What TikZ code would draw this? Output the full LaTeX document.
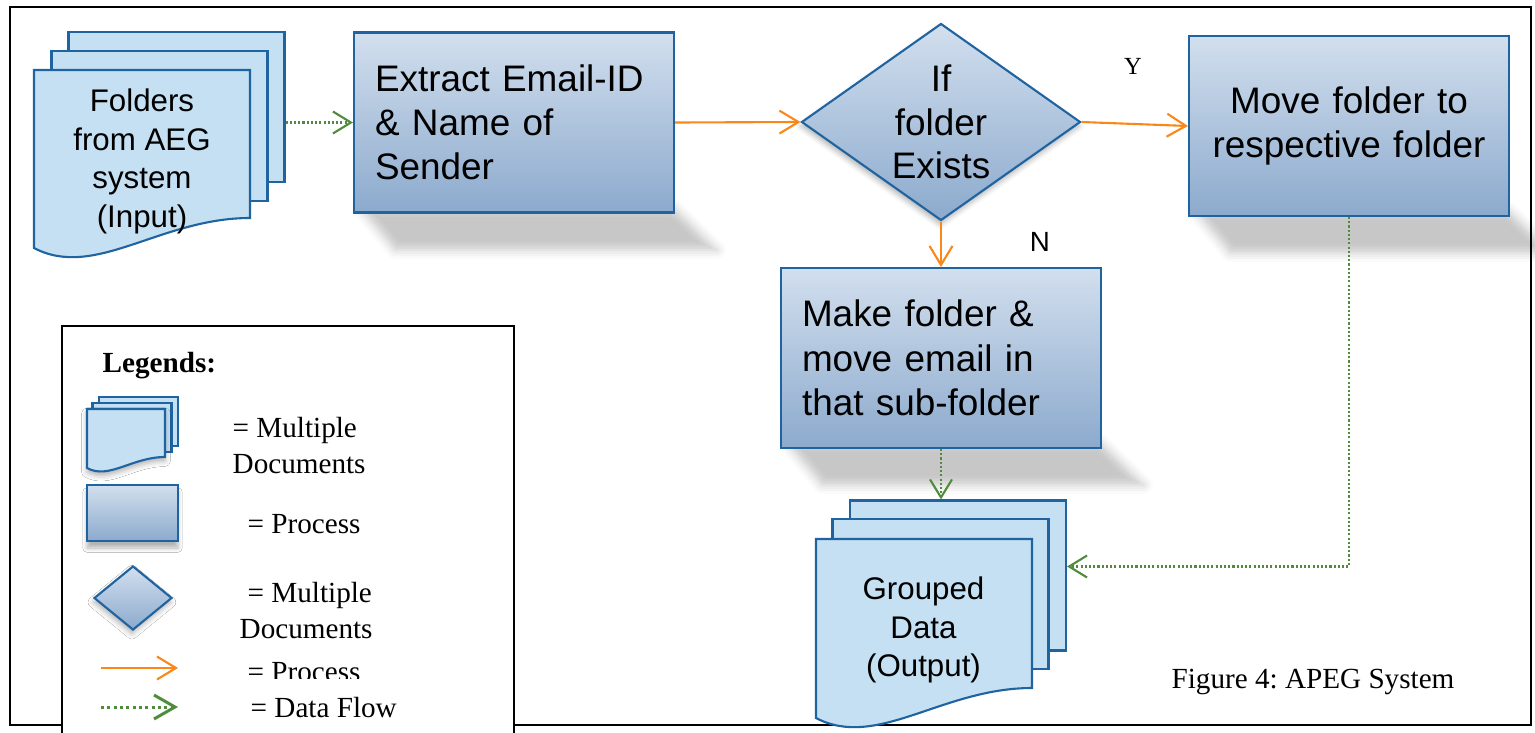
\documentclass[tikz,border=0pt]{standalone}
\usepackage{fontspec}
\setmainfont{Liberation Serif}
\setsansfont{Liberation Sans}
\usetikzlibrary{shapes.geometric,arrows.meta,shadows.blur}

\definecolor{boxline}{RGB}{31,100,160}
\definecolor{boxtop}{RGB}{210,223,238}
\definecolor{boxbot}{RGB}{140,170,205}
\definecolor{docfill}{RGB}{197,224,242}
\definecolor{flowor}{RGB}{250,135,25}
\definecolor{datagr}{RGB}{80,140,60}

\tikzset{
  process/.style={rectangle, draw=boxline, line width=0.6pt, top color=boxtop, bottom color=boxbot,
    minimum width=3.2cm, minimum height=1.8cm, inner xsep=0.21cm, inner ysep=0pt, text width=2.78cm,
    font=\sffamily\fontsize{10.5}{12.6}\selectfont},
  decision/.style={diamond, draw=boxline, line width=0.6pt, top color=boxtop, bottom color=boxbot,
    inner sep=0pt, aspect=1.42, align=center, font=\sffamily\fontsize{10.5}{12.3}\selectfont,
    blur shadow={shadow xshift=-0.3pt, shadow yshift=-1.2pt, shadow blur radius=1.5pt, shadow opacity=30}},
  sheet/.style={rectangle, draw=boxline, line width=0.6pt, fill=docfill, minimum width=2.16cm, minimum height=1.5cm},
  docsheet/.style={draw=boxline, line width=0.6pt, fill=docfill},
  doctext/.style={font=\sffamily\fontsize{8.9}{11}\selectfont, align=center, inner sep=0pt},
  flow/.style={draw=flowor, line width=0.6pt, -{Straight Barb[length=1.9mm,width=2.3mm]}},
  dataflow/.style={draw=datagr, line width=0.6pt, dash pattern=on 0.6pt off 0.6pt,
    -{Straight Barb[length=1.8mm,width=2.2mm]}},
  persp/.style={blur shadow={shadow xshift=0pt, shadow yshift=0pt, shadow blur radius=2.5pt, shadow opacity=22}},
  legend/.style={font=\fontsize{8.3}{10}\selectfont, align=left, anchor=west, inner sep=0pt},
}

\begin{document}
\frenchspacing
\begin{tikzpicture}
\useasboundingbox (0,0) rectangle (15.35,-7.33);
\clip (0,0) rectangle (15.35,-7.33);

% outer frame
\draw[line width=0.6pt] (0.10,-0.07) rectangle (15.31,-7.25);

% ground shadows under the process boxes
\foreach \x/\y in {3.54/-2.13, 7.81/-4.48, 11.89/-2.16}
  \path[persp] (\x+0.06,\y+0.05) -- ++(3.14,0) -- ++(0.43,-0.42) -- ++(-3.22,0) -- cycle;

% input folders
\node[sheet] (inC) at (1.765,-1.07) {};
\node[sheet] (inB) at (1.595,-1.26) {};
\filldraw[docsheet] (0.34,-0.70) -- ++(2.16,0) -- ++(0,-1.48) .. controls +(-0.9,0) and +(0.61,-0.32) .. ++(-2.16,-0.30) -- cycle;
\node[doctext] (in) at (1.42,-1.615) {Folders\\from AEG\\system\\(Input)};

% process steps
\node[process, align=left] (ex) at (5.14,-1.225) {Extract Email-ID\\\& Name of\\Sender};
\node[decision, minimum width=2.79cm, minimum height=1.97cm] (dec) at (9.41,-1.22) {If\\folder\\Exists};
\node[process, align=center] (mv) at (13.49,-1.26) {Move folder to\\respective folder};
\node[process, align=left] (mk) at (9.41,-3.58) {Make folder \&\\move email in\\that sub-folder};

% grouped output
\node[sheet] (outC) at (9.58,-5.755) {};
\node[sheet] (outB) at (9.405,-5.94) {};
\filldraw[docsheet] (8.16,-5.39) -- ++(2.16,0) -- ++(0,-1.49) .. controls +(-0.9,0) and +(0.61,-0.32) .. ++(-2.16,-0.30) -- cycle;
\node[doctext] (out) at (9.235,-6.30) {Grouped\\Data\\(Output)};

% arrows
\draw[dataflow] (inC.east |- ex.west) -- (ex.west);
\draw[flow] (ex.east) -- (dec.west);
\draw[flow] (dec.east) -- (mv.west);
\draw[flow] (dec.south) -- (mk.north);
\draw[dataflow] (mk.south) -- (mk.south |- outC.north);
\draw[dataflow] (mv.south) |- ([yshift=0.09cm]outC.east);

\node[font=\fontsize{7}{8}\selectfont] (yes) at (11.33,-0.66) {Y};
\node[font=\sffamily\fontsize{7.9}{9}\selectfont] (no) at (10.40,-2.42) {N};
\node[font=\fontsize{8.3}{10}\selectfont] (cap) at (13.13,-6.82) {Figure 4: APEG System};

% legend
\node[draw, fill=white, line width=0.6pt, minimum width=4.52cm, minimum height=4.3cm, anchor=north west] (lgbox) at (0.61,-3.25) {};
\node[legend, font=\bfseries\fontsize{8.3}{10}\selectfont] (lgtitle) at (1.02,-3.66) {Legends:};

\node[sheet, minimum width=0.79cm, minimum height=0.49cm] (lgC) at (1.385,-4.215) {};
\node[sheet, minimum width=0.79cm, minimum height=0.49cm] (lgB) at (1.32,-4.275) {};
\filldraw[docsheet, blur shadow={shadow xshift=0pt, shadow yshift=-1.2pt, shadow blur radius=1.5pt, shadow opacity=30}]
  (0.87,-4.09) -- ++(0.78,0) -- ++(0,-0.48) .. controls +(-0.33,0) and +(0.22,-0.12) .. ++(-0.78,-0.11) -- cycle;
\node[legend] (lgt1) at (2.32,-4.455) {= Multiple\\Documents};

\node[process, minimum width=0.91cm, minimum height=0.56cm, text width=, inner xsep=0pt,
  blur shadow={shadow xshift=0pt, shadow yshift=-2pt, shadow blur radius=1.2pt, shadow opacity=30}] (lgproc) at (1.325,-5.13) {};
\node[legend] (lgt2) at (2.47,-5.24) {= Process};

\node[decision, minimum width=0.78cm, minimum height=0.64cm] (lgdec) at (1.33,-5.98) {};
\node[legend] (lgt3) at (2.39,-6.105) {\hspace{0.8mm}= Multiple\\Documents};

\coordinate (lgA1) at (1.01,-6.68);
\coordinate (lgA2) at (1.78,-6.68);
\draw[flow] (lgA1) -- (lgA2);
\begin{scope}
  \clip (2.3,-6.55) rectangle (4.0,-6.78);
  \node[legend] (lgt4) at (2.47,-6.72) {= Process};
\end{scope}

\coordinate (lgB1) at (1.01,-7.07);
\coordinate (lgB2) at (1.78,-7.07);
\draw[dataflow, line width=0.85pt, dash pattern=on 0.85pt off 0.95pt, -{Straight Barb[length=2.1mm,width=2.4mm]}] (lgB1) -- (lgB2);
\node[legend] (lgt5) at (2.50,-7.08) {= Data Flow};
\end{tikzpicture}
\end{document}
